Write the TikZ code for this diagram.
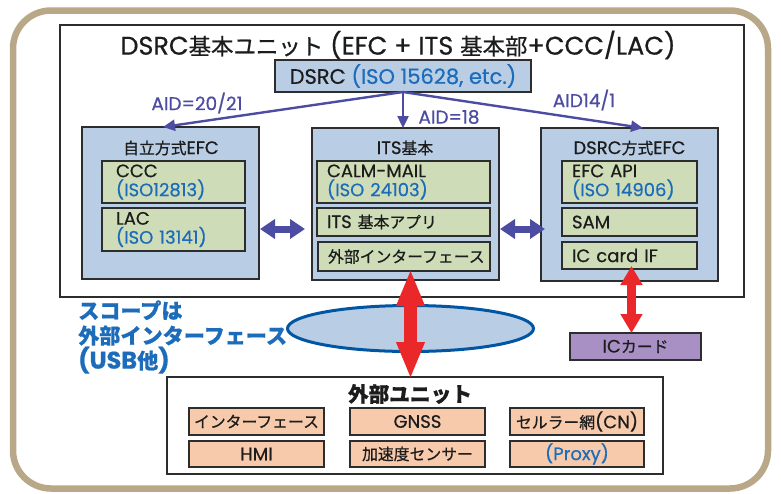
\documentclass[tikz,border=0pt]{standalone}
\usepackage{fontspec}
\setmainfont{Poppins}[FakeBold=0.6]
\newfontfamily\cjk{Noto Sans CJK JP}[Scale=0.88,FakeBold=0.6]
\newcommand{\jp}[1]{{\cjk #1}}
\usetikzlibrary{arrows.meta,shapes.geometric}
\definecolor{frametan}{RGB}{184,168,136}
\definecolor{boxline}{RGB}{45,45,45}
\definecolor{lblue}{RGB}{185,206,229}
\definecolor{lgreen}{RGB}{206,221,183}
\definecolor{lorange}{RGB}{248,202,172}
\definecolor{lpurple}{RGB}{168,143,196}
\definecolor{apurple}{RGB}{76,76,162}
\definecolor{ared}{RGB}{234,40,42}
\definecolor{isoblue}{RGB}{28,108,185}
\definecolor{ellblue}{RGB}{0,86,162}
\definecolor{txt}{RGB}{28,28,28}
\newcommand{\fs}[2]{\fontsize{#1}{#2}\selectfont}
\begin{document}
\begin{tikzpicture}[x=1pt,y=-1pt,
  every node/.style={text=txt},
  bx/.style={draw=boxline, line width=1.4, anchor=north west, inner sep=0pt, outer sep=0pt},
  bigbox/.style={bx, fill=lblue},
  gbox/.style={bx, fill=lgreen, align=left, inner xsep=10pt, font=\fs{18}{19}},
  obox/.style={bx, fill=lorange, align=center, font=\fs{18}{19}},
  ttl/.style={font=\fs{18}{19}, inner sep=0pt},
  aid/.style={text=apurple, font=\fs{18.5}{19}, inner sep=0pt},
  aidarrow/.style={draw=apurple, line width=2.4, -{Triangle[width=11pt,length=12pt]}},
  dblarrow/.style={draw=apurple, line width=7, {Triangle[width=19pt,length=15pt]}-{Triangle[width=19pt,length=15pt]}},
  redarrow/.style={draw=ared, line width=13, {Triangle[width=26pt,length=37pt]}-{Triangle[width=26pt,length=37pt]}},
  redarrowsm/.style={draw=ared, line width=9, {Triangle[width=21pt,length=19pt]}-{Triangle[width=21pt,length=19pt]}}
]
\useasboundingbox (0,0) rectangle (781,493);
% outer frame
\node[draw=frametan, line width=6.5, rounded corners=38, minimum width=755, minimum height=478, inner sep=0pt] (frame) at (390.5,249.5) {};
% main unit
\node[bx, minimum width=684, minimum height=272] (main) at (60,25) {};
\node[font=\fs{25.5}{28}, inner sep=0pt] (title) at (398,45) {DSRC\jp{基本ユニット} (EFC + ITS \jp{基本部}+CCC/LAC)};
\node[bx, line width=2, fill=lblue, minimum width=256, minimum height=32, font=\fs{21}{22}] (dsrc) at (275,60) {DSRC \textcolor{isoblue}{(ISO 15628, etc.)}};
% left
\node[bigbox, minimum width=177, minimum height=152] (leftbox) at (82,127) {};
\node[ttl] (lt) at (171,148) {\jp{自立方式}EFC};
\node[gbox, text width=115, minimum height=42, inner xsep=14pt] (ccc) at (102,161) {CCC\\\textcolor{isoblue}{(ISO12813)}};
\node[gbox, text width=115, minimum height=43, inner xsep=14pt] (lac) at (102,208) {LAC\\\textcolor{isoblue}{(ISO 13141)}};
% middle
\node[bigbox, minimum width=187, minimum height=152] (midbox) at (312,128) {};
\node[ttl] (mt) at (405,148) {ITS\jp{基本}};
\node[gbox, text width=153, minimum height=42] (calm) at (317,161) {CALM-MAIL\\\textcolor{isoblue}{(ISO 24103)}};
\node[gbox, text width=153, minimum height=28] (app) at (317,208) {ITS \jp{基本アプリ}};
\node[gbox, text width=152, minimum height=29] (ifbox) at (318,242) {\jp{外部インターフェース}};
% right
\node[bigbox, minimum width=177, minimum height=153] (rightbox) at (541,128) {};
\node[ttl] (rt) at (629.5,148) {DSRC\jp{方式}EFC};
\node[gbox, text width=115, minimum height=42] (efcapi) at (562,161) {EFC API\\\textcolor{isoblue}{(ISO 14906)}};
\node[gbox, text width=115, minimum height=28] (sam) at (562,208) {SAM};
\node[gbox, text width=115, minimum height=27] (icif) at (562,242) {IC card IF};
% AID arrows
\draw[aidarrow] (dsrc.south) -- ([xshift=81]leftbox.north west);
\draw[aidarrow] (dsrc.south) -- (dsrc.south |- midbox.north);
\draw[aidarrow] (dsrc.south) -- ([xshift=102]rightbox.north west);
\node[aid] (aid1) at (197,103) {AID=20/21};
\node[aid] (aid2) at (449,117) {AID=18};
\node[aid] (aid3) at (584,100) {AID14/1};
% double arrows
\coordinate (ya) at (0,229);
\draw[dblarrow] ([xshift=1]leftbox.east |- ya) -- ([xshift=-7]midbox.west |- ya);
\draw[dblarrow] ([xshift=1]midbox.east |- ya) -- ([xshift=4]rightbox.west |- ya);
% scope ellipse
\node[ellipse, draw=ellblue, line width=3, fill=lblue, minimum width=246, minimum height=46, inner sep=0pt] (scope) at (410.5,328.5) {};
\node[anchor=west, align=left, text=isoblue, font=\bfseries\fs{24}{25}, inner sep=0pt] (scopetxt) at (78,337) {\jp{スコープは}\\\jp{外部インターフェース}\\(USB\jp{他})};
% IC card
\node[bx, fill=lpurple, minimum width=131, minimum height=27, font=\fs{18}{19}] (iccard) at (570,333) {IC\jp{カード}};
% external unit
\node[bx, minimum width=496, minimum height=97] (ext) at (167,377) {};
\node[font=\bfseries\fs{23.5}{25}, inner sep=0pt] (extt) at (410,394) {\jp{外部ユニット}};
\node[obox, minimum width=135, minimum height=27] (o1) at (189,408) {\jp{インターフェース}};
\node[obox, minimum width=135, minimum height=27] (o2) at (350,408) {GNSS};
\node[obox, minimum width=134, minimum height=27] (o3) at (510,408) {\jp{セルラー網}(CN)};
\node[obox, minimum width=135, minimum height=26] (o4) at (189,441) {HMI};
\node[obox, minimum width=135, minimum height=26] (o5) at (350,441) {\jp{加速度センサー}};
\node[obox, minimum width=134, minimum height=26] (o6) at (510,441) {\textcolor{isoblue}{(Proxy)}};
% red arrows
\draw[redarrow] ([yshift=2]ifbox.south -| scope.center) -- ([yshift=-2]ext.north -| scope.center);
\draw[redarrowsm] ([xshift=2,yshift=3]icif.south) -- ([xshift=2]icif.south |- iccard.north);
\end{tikzpicture}
\end{document}
